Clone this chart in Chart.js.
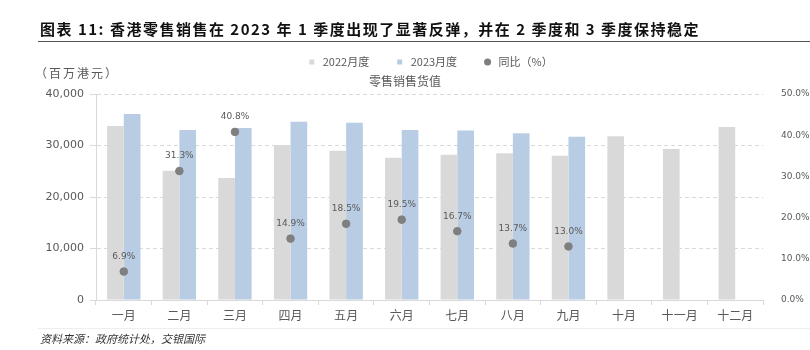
<!DOCTYPE html>
<html>
<head>
<meta charset="utf-8">
<script src="https://cdn.jsdelivr.net/npm/chart.js@4"></script>
<style>
  body { margin: 0; background: #fff; }
  #wrap { position: relative; width: 810px; height: 350px; overflow: hidden; font-family: "Noto Sans CJK SC", sans-serif; }
  #chart { position: absolute; left: 0; top: 0; }
  #title { position: absolute; left: 40px; top: 18px; font-size: 15px; font-weight: bold; letter-spacing: 1.5px; color: #111; white-space: nowrap; line-height: 22px; }
  #rule { position: absolute; left: 38px; top: 41px; width: 772px; height: 0; border-top: 1.5px solid #555; }
  #unit { position: absolute; left: 35px; top: 65px; font-size: 12px; letter-spacing: 2px; color: #595959; line-height: 16px; }
  #srcline { position: absolute; left: 38px; top: 328px; width: 772px; height: 0; border-top: 1px solid #eee; }
  #source { position: absolute; left: 40px; top: 330px; font-size: 11px; font-style: italic; color: #333; line-height: 16px; }
</style>
</head>
<body>
<div id="wrap">
  <canvas id="chart" width="810" height="350"></canvas>
  <div id="title">图表 11: 香港零售销售在 2023 年 1 季度出现了显著反弹，并在 2 季度和 3 季度保持稳定</div>
  <div id="rule"></div>
  <div id="unit">（百万港元）</div>
  <div id="srcline"></div>
  <div id="source">资料来源：政府统计处，交银国际</div>
</div>
<script>
// 月份
const months = ["一月", "二月", "三月", "四月", "五月", "六月", "七月", "八月", "九月", "十月", "十一月", "十二月"];

// 零售销售货值 (百万港元)
const sales2022 = [33800, 25100, 23700, 30100, 29000, 27600, 28200, 28500, 28000, 31800, 29300, 33600];
const sales2023 = [36100, 33000, 33400, 34600, 34400, 33000, 32900, 32400, 31700, null, null, null];

// 同比 (%)
const yoy = [6.9, 31.3, 40.8, 14.9, 18.5, 19.5, 16.7, 13.7, 13.0, null, null, null];

const leftTicks = [0, 10000, 20000, 30000, 40000];
const rightTicks = [0, 10, 20, 30, 40, 50];

const GRAY = "#d9d9d9";
const BLUE = "#b8cce4";
const DOT = "#7f7f7f";
const TEXT = "#595959";

// 同比数据标签
const pointLabels = {
  id: "pointLabels",
  afterDatasetsDraw(chart) {
    const ctx = chart.ctx;
    const meta = chart.getDatasetMeta(2);
    ctx.save();
    ctx.font = "9px 'DejaVu Sans'";
    ctx.fillStyle = TEXT;
    ctx.textAlign = "center";
    ctx.textBaseline = "middle";
    meta.data.forEach((pt, i) => {
      if (yoy[i] == null) return;
      ctx.fillText(yoy[i].toFixed(1) + "%", pt.x, pt.y - 15);
    });
    ctx.restore();
  }
};

const ctx = document.getElementById("chart").getContext("2d");
new Chart(ctx, {
  type: "bar",
  data: {
    labels: months,
    datasets: [
      {
        label: "2022月度",
        data: sales2022,
        backgroundColor: GRAY,
        yAxisID: "y",
        order: 1,
        categoryPercentage: 0.6,
        barPercentage: 1.0
      },
      {
        label: "2023月度",
        data: sales2023,
        backgroundColor: BLUE,
        yAxisID: "y",
        order: 1,
        categoryPercentage: 0.6,
        barPercentage: 1.0
      },
      {
        type: "line",
        label: "同比（%）",
        data: yoy,
        yAxisID: "y1",
        showLine: false,
        pointRadius: 3.8,
        pointBackgroundColor: DOT,
        pointBorderColor: DOT,
        backgroundColor: DOT,
        borderColor: DOT,
        order: 0
      }
    ]
  },
  plugins: [pointLabels],
  options: {
    responsive: false,
    animation: false,
    layout: { padding: { top: 31.5, left: 0, right: 0, bottom: 0 } },
    plugins: {
      tooltip: { enabled: false },
      legend: {
        display: true,
        position: "top",
        fullSize: false,
        weight: 1000,
        labels: {
          usePointStyle: true,
          boxHeight: 5,
          padding: 25,
          color: TEXT,
          font: { family: "'Noto Sans CJK SC'", size: 11 },
          generateLabels(chart) {
            return chart.data.datasets.map((ds, i) => ({
              text: ds.label,
              fillStyle: ds.backgroundColor,
              strokeStyle: ds.backgroundColor,
              lineWidth: 0,
              pointStyle: i < 2 ? "rect" : "circle",
              fontColor: TEXT,
              datasetIndex: i
            }));
          }
        }
      },
      title: {
        display: true,
        text: "零售销售货值",
        weight: 500,
        color: TEXT,
        font: { family: "'Noto Sans CJK SC'", size: 12, weight: "normal" },
        padding: { top: -3.7, bottom: 5.8 }
      }
    },
    scales: {
      x: {
        grid: { display: true, drawOnChartArea: false, drawTicks: true, tickLength: 5, color: GRAY, offset: true },
        border: { display: true, color: GRAY, width: 1 },
        ticks: { color: TEXT, padding: 3, font: { family: "'Noto Sans CJK SC'", size: 12 }, maxRotation: 0, autoSkip: false },
        afterFit(scale) { scale.height = 50; }
      },
      y: {
        position: "left",
        min: 0,
        max: 40000,
        afterBuildTicks(scale) { scale.ticks = leftTicks.map(v => ({ value: v })); },
        grid: { color: GRAY, lineWidth: 1, drawTicks: true, tickLength: 6 },
        border: { display: true, color: GRAY, width: 1, dash: [4, 3] },
        ticks: {
          color: TEXT,
          padding: 6,
          font: { family: "'DejaVu Sans'", size: 11 },
          callback: v => v.toLocaleString("en-US")
        },
        afterFit(scale) { scale.width = 96; }
      },
      y1: {
        position: "right",
        min: 0,
        max: 50,
        afterBuildTicks(scale) { scale.ticks = rightTicks.map(v => ({ value: v })); },
        grid: { display: false },
        border: { display: false },
        ticks: {
          color: TEXT,
          padding: 10,
          font: { family: "'DejaVu Sans'", size: 9 },
          callback: v => v.toFixed(1) + "%"
        },
        afterFit(scale) { scale.width = 47; }
      }
    }
  }
});
</script>
</body>
</html>
